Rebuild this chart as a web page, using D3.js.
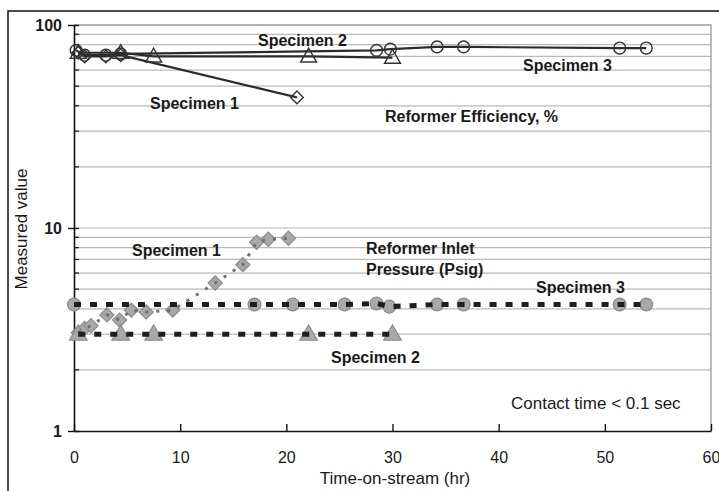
<!DOCTYPE html>
<html>
<head>
<meta charset="utf-8">
<script src="https://cdn.jsdelivr.net/npm/d3@7"></script>
<style>
  html, body { margin: 0; padding: 0; background: #fff; }
  svg { display: block; }
  text { font-family: "Liberation Sans", Arial, sans-serif; fill: #1a1a1a; }
</style>
</head>
<body>
<svg id="chart" width="719" height="491"></svg>
<script>
// Reformer efficiency (%), hollow markers, solid lines
const effS1X = [0.4, 1.0, 3.0, 4.4, 21.0];
const effS1Y = [73, 70, 70, 71, 44];
const effS2X = [0.4, 4.4, 7.5, 22.1, 30.0];
const effS2Y = [73, 73, 70, 70, 69];
const effS3X = [0.2, 1.0, 3.0, 4.4, 28.5, 29.8, 34.2, 36.7, 51.4, 53.9];
const effS3Y = [75, 71, 71, 72, 75, 76, 78, 78, 77, 77];

// Reformer inlet pressure (psig), grey filled markers
const presS1X = [0.4, 1.0, 1.6, 3.1, 4.3, 5.4, 6.8, 9.3, 13.3, 15.9, 17.2, 18.3, 20.2];
const presS1Y = [3.05, 3.2, 3.3, 3.73, 3.52, 3.94, 3.86, 3.94, 5.36, 6.6, 8.5, 8.8, 8.9];
const presS2X = [0.4, 4.4, 7.5, 22.1, 30.0];
const presS2Y = [3.0, 3.0, 3.0, 3.0, 3.0];
const presS3X = [0.0, 17.0, 20.6, 25.5, 28.5, 29.7, 34.2, 36.7, 51.4, 53.9];
const presS3Y = [4.2, 4.2, 4.2, 4.2, 4.25, 4.1, 4.2, 4.2, 4.2, 4.2];

// Axis ticks
const xTicks = [0, 10, 20, 30, 40, 50, 60];
const yMajor = [1, 10, 100];
const yMinor = [2, 3, 4, 5, 6, 7, 8, 9, 20, 30, 40, 50, 60, 70, 80, 90];

const svg = d3.select("#chart");
const x = d3.scaleLinear().domain([0, 60]).range([74, 711]);
const y = d3.scaleLog().domain([1, 100]).range([431, 25]);

// outer frame
svg.append("rect").attr("x", 8).attr("y", 11).attr("width", 740).attr("height", 500)
  .attr("fill", "#fff").attr("stroke", "#111").attr("stroke-width", 1.5);

// horizontal gridlines
svg.append("g").selectAll("line").data(yMinor.concat([10]))
  .join("line")
  .attr("x1", x(0)).attr("x2", x(60))
  .attr("y1", d => y(d)).attr("y2", d => y(d))
  .attr("stroke", "#bababa").attr("stroke-width", 1.2);

// plot border (top/right)
svg.append("path")
  .attr("d", `M${x(0)},${y(100)}H${x(60)}V${y(1)}`)
  .attr("fill", "none").attr("stroke", "#9a9a9a").attr("stroke-width", 1.3);

// y axis
const yAxis = svg.append("g").attr("transform", `translate(${x(0)},0)`)
  .call(d3.axisLeft(y).tickValues(yMajor).tickFormat(d3.format("d"))
    .tickSizeInner(6).tickSizeOuter(0).tickPadding(6));
yAxis.select(".domain").attr("stroke", "#111").attr("stroke-width", 1.6);
yAxis.selectAll(".tick line").attr("x1", 5).attr("x2", -6).attr("stroke", "#111").attr("stroke-width", 1.4);
yAxis.selectAll(".tick text").style("font-size", "16px").style("font-weight", "bold")
  .style("font-family", "'Liberation Sans', Arial, sans-serif").attr("fill", "#1a1a1a");
svg.append("g").selectAll("line").data(yMinor).join("line")
  .attr("x1", x(0)).attr("x2", x(0) + 5)
  .attr("y1", d => y(d)).attr("y2", d => y(d))
  .attr("stroke", "#111").attr("stroke-width", 1.2);

// x axis
const xAxis = svg.append("g").attr("transform", `translate(0,${y(1)})`)
  .call(d3.axisBottom(x).tickValues(xTicks).tickFormat(d3.format("d"))
    .tickSizeInner(-7).tickSizeOuter(0).tickPadding(21));
xAxis.select(".domain").attr("stroke", "#111").attr("stroke-width", 1.6);
xAxis.selectAll(".tick line").attr("stroke", "#111").attr("stroke-width", 1.4);
xAxis.selectAll(".tick text").style("font-size", "16px")
  .style("font-family", "'Liberation Sans', Arial, sans-serif").attr("fill", "#1a1a1a");

// axis titles
svg.append("text").attr("x", 395).attr("y", 484).attr("text-anchor", "middle")
  .style("font-size", "17px").text("Time-on-stream (hr)");
svg.append("text").attr("transform", "translate(27,229) rotate(-90)").attr("text-anchor", "middle")
  .style("font-size", "17px").text("Measured value");

function pts(xs, ys) { return xs.map((v, i) => [v, ys[i]]); }
const line = d3.line().x(d => x(d[0])).y(d => y(d[1]));

// square turned 45 degrees gives an even-sided diamond
const square = d3.symbol().type(d3.symbolSquare);
const triangle = d3.symbol().type(d3.symbolTriangle);
const circle = d3.symbol().type(d3.symbolCircle);

function marks(xs, ys, sym, size, rot, dy, fill, stroke, sw) {
  svg.append("g").selectAll("path").data(pts(xs, ys)).join("path")
    .attr("transform", d => `translate(${x(d[0])},${y(d[1]) + dy}) rotate(${rot})`)
    .attr("d", sym.size(size)())
    .attr("fill", fill).attr("stroke", stroke).attr("stroke-width", sw);
}

// ---- efficiency series ----
[[effS1X, effS1Y], [effS2X, effS2Y], [effS3X, effS3Y]].forEach(([xs, ys]) => {
  svg.append("path").datum(pts(xs, ys)).attr("d", line)
    .attr("fill", "none").attr("stroke", "#2b2b2b").attr("stroke-width", 2.2);
});
marks(effS3X, effS3Y, circle, 110, 0, 0, "none", "#333", 1.4);
marks(effS1X, effS1Y, square, 80, 45, 0, "none", "#333", 1.4);
marks(effS2X, effS2Y, triangle, 110, 0, 1, "none", "#333", 1.4);

// ---- pressure series ----
marks(presS1X, presS1Y, square, 100, 45, 0, "#a9a9a9", "#8a8a8a", 1.2);
marks(presS3X, presS3Y, circle, 130, 0, 0, "#a9a9a9", "#8a8a8a", 1.2);
marks(presS2X, presS2Y, triangle, 135, 0, 1, "#a9a9a9", "#8a8a8a", 1.2);

svg.append("path").datum(pts(presS1X, presS1Y)).attr("d", line)
  .attr("fill", "none").attr("stroke", "#6f6f6f").attr("stroke-width", 3)
  .attr("stroke-dasharray", "3,8");
svg.append("path").datum(pts(presS3X, presS3Y)).attr("d", line)
  .attr("fill", "none").attr("stroke", "#1e1e1e").attr("stroke-width", 5)
  .attr("stroke-dasharray", "7,9");
svg.append("path").datum(pts(presS2X, presS2Y)).attr("d", line)
  .attr("fill", "none").attr("stroke", "#1e1e1e").attr("stroke-width", 5)
  .attr("stroke-dasharray", "7,9");

// ---- annotations ----
const notes = [
  ["Specimen 2", 258, 46, true],
  ["Specimen 3", 523, 71, true],
  ["Specimen 1", 150, 109, true],
  ["Reformer Efficiency, %", 385, 122, true],
  ["Specimen 1", 132, 256, true],
  ["Reformer Inlet", 366, 254, true],
  ["Pressure (Psig)", 366, 275, true],
  ["Specimen 3", 536, 293, true],
  ["Specimen 2", 331, 363, true],
  ["Contact time < 0.1 sec", 511, 409, false]
];
svg.append("g").selectAll("text").data(notes).join("text")
  .attr("x", d => d[1]).attr("y", d => d[2])
  .style("font-size", d => d[3] ? "16px" : "17px")
  .style("font-weight", d => d[3] ? "bold" : "normal")
  .text(d => d[0]);
</script>
</body>
</html>
